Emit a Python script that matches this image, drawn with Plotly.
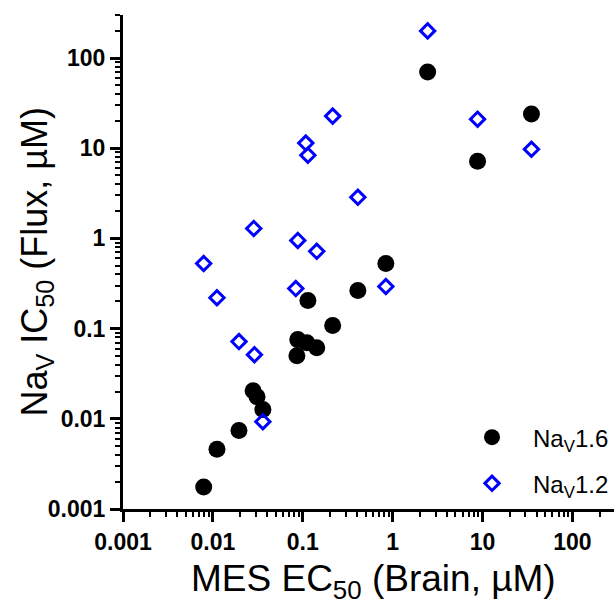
import plotly.graph_objects as go
import numpy as np

# NaV1.6 (filled black circles)
nav16_x = [0.0079, 0.0111, 0.0195, 0.028, 0.031, 0.036, 0.086, 0.088, 0.111, 0.114, 0.143, 0.215, 0.41, 0.84, 2.45, 8.8, 35]
nav16_y = [0.00175, 0.0046, 0.0074, 0.0205, 0.0176, 0.0127, 0.050, 0.0755, 0.0698, 0.205, 0.0615, 0.108, 0.264, 0.527, 70, 7.17, 23.9]

# NaV1.2 (open blue diamonds)
nav12_x = [0.0079, 0.0111, 0.0195, 0.029, 0.0285, 0.036, 0.0836, 0.088, 0.108, 0.114, 0.143, 0.215, 0.41, 0.84, 2.45, 8.8, 35]
nav12_y = [0.527, 0.22, 0.0718, 0.0514, 1.29, 0.0093, 0.278, 0.95, 11.4, 8.36, 0.72, 22.7, 2.86, 0.293, 200, 21, 9.75]

tick_vals = [0.001, 0.01, 0.1, 1, 10, 100]
tick_text = ["0.001", "0.01", "0.1", "1", "10", "100"]

x_title = "MES EC<sub>50</sub> (Brain, \u00b5M)"
y_title = "Na<sub>V</sub> IC<sub>50</sub> (Flux, \u00b5M)"

FONT = "Liberation Sans, Arial, sans-serif"

fig = go.Figure()
fig.add_trace(go.Scatter(
    x=nav16_x, y=nav16_y, mode="markers", name="Na<sub>V</sub>1.6",
    legendgroup="a",
    marker=dict(symbol="circle", size=17, color="black", line=dict(width=0)),
))
fig.add_trace(go.Scatter(
    x=nav12_x, y=nav12_y, mode="markers", name="Na<sub>V</sub>1.2",
    legendgroup="b",
    marker=dict(symbol="diamond-open", size=11, color="#0000ff", line=dict(width=3, color="#0000ff")),
))

axis_common = dict(
    type="log",
    showgrid=False, zeroline=False,
    showline=True, linecolor="black", linewidth=3,
    ticks="outside", ticklen=10, tickwidth=3, tickcolor="black",
    tickvals=tick_vals, ticktext=tick_text,
    tickfont=dict(family=FONT, size=23, color="black", weight="bold"),
    minor=dict(ticks="outside", ticklen=5, tickwidth=2, tickcolor="black", dtick="D1"),
)

fig.update_layout(
    width=615, height=603,
    margin=dict(l=123, r=1, t=15, b=94),
    plot_bgcolor="white", paper_bgcolor="white",
    font=dict(family=FONT, color="black"),
    xaxis=dict(axis_common, range=[-3, np.log10(290)]),
    yaxis=dict(axis_common, range=[-3, np.log10(300)]),
    showlegend=True,
    legend=dict(
        x=1.0, xanchor="right", y=0.006, yanchor="bottom",
        font=dict(family=FONT, size=24, color="black"),
        bgcolor="rgba(0,0,0,0)", itemwidth=72, tracegroupgap=12,
    ),
    annotations=[
        dict(text=x_title, xref="paper", yref="paper", x=0.511, y=-0.146,
             xanchor="center", yanchor="middle", showarrow=False,
             font=dict(family=FONT, size=37, color="black")),
        dict(text=y_title, xref="paper", yref="paper", x=-0.176, y=0.5,
             xanchor="center", yanchor="middle", showarrow=False, textangle=-90,
             font=dict(family=FONT, size=36, color="black")),
    ],
)

fig.write_html("out.html")
